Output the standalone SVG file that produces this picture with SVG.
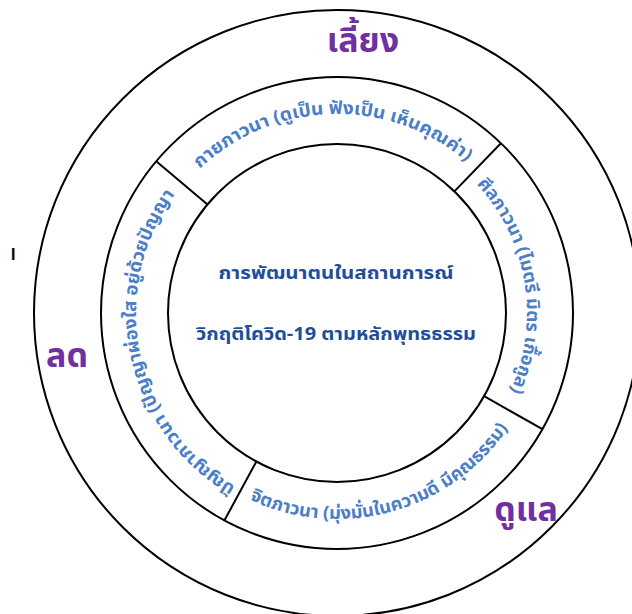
<svg xmlns="http://www.w3.org/2000/svg" width="632" height="614" viewBox="0 0 632 614">
  <style>
    .ring { fill: none; stroke: #000; stroke-width: 2; }
    .div { stroke: #000; stroke-width: 2; }
    .sec { font-family: Tahoma, "Noto Sans Thai", "Noto Sans", sans-serif; font-size: 18px; font-weight: bold; fill: #4A7EC6; }
    .core { font-family: Tahoma, "Noto Sans Thai", "Noto Sans", sans-serif; font-size: 18px; font-weight: bold; fill: #1F4E99; text-anchor: middle; }
    .big { font-family: Tahoma, "Noto Sans Thai", "Noto Sans", sans-serif; font-size: 34px; font-weight: bold; fill: #7030A0; text-anchor: middle; }
  </style>
  <defs>
    <path id="pTop" d="M181.3,189.1 A199,199 0 0 1 486.1,181.1"/>
    <path id="pRight" d="M461.0,169.1 A190,190 0 0 1 500.3,410.1"/>
    <path id="pBottom" d="M220.3,482.8 A206,206 0 0 0 524.5,398.4"/>
    <path id="pLeft" d="M257.5,497.6 A201,201 0 0 1 190.7,175.2"/>
  </defs>
  <rect width="632" height="614" fill="#fff"/>
  <g id="rings">
    <circle class="ring" cx="337" cy="313" r="303"/>
    <circle class="ring" cx="337" cy="313" r="236"/>
    <circle class="ring" cx="337" cy="313" r="169"/>
  </g>
  <g id="connectors">
    <line class="div" x1="207.5" y1="204.4" x2="156.2" y2="161.3"/>
    <line class="div" x1="454.4" y1="191.4" x2="500.9" y2="143.2"/>
    <line class="div" x1="484.1" y1="396.2" x2="542.4" y2="429.2"/>
    <line class="div" x1="256.4" y1="461.5" x2="224.4" y2="520.4"/>
  </g>
  <g id="center">
    <text class="core" x="336" y="279" textLength="235" lengthAdjust="spacingAndGlyphs">การพัฒนาตนในสถานการณ์</text>
    <text class="core" x="336" y="340" textLength="280" lengthAdjust="spacingAndGlyphs">วิกฤติโควิด-19 ตามหลักพุทธธรรม</text>
  </g>
  <g id="sector-kaya">
    <text class="sec"><textPath href="#pTop" startOffset="50%" text-anchor="middle" textLength="292" lengthAdjust="spacingAndGlyphs">กายภาวนา (ดูเป็น ฟังเป็น เห็นคุณค่า)</textPath></text>
  </g>
  <g id="sector-sila">
    <text class="sec"><textPath href="#pRight" startOffset="50%" text-anchor="middle" textLength="222" lengthAdjust="spacingAndGlyphs">ศีลภาวนา (ไมตรี มิตร เกื้อกูล)</textPath></text>
  </g>
  <g id="sector-citta">
    <text class="sec"><textPath href="#pBottom" startOffset="50%" text-anchor="middle" textLength="292" lengthAdjust="spacingAndGlyphs">จิตภาวนา (มุ่งมั่นในความดี มีคุณธรรม)</textPath></text>
  </g>
  <g id="sector-panna">
    <text class="sec"><textPath href="#pLeft" startOffset="50%" text-anchor="middle" textLength="336" lengthAdjust="spacingAndGlyphs">ปัญญาภาวนา (ปัญญาผ่องใส อยู่ด้วยปัญญา</textPath></text>
  </g>
  <g id="label-liang">
    <text class="big" x="363" y="52">เลี้ยง</text>
  </g>
  <g id="label-lot">
    <text class="big" x="67" y="367">ลด</text>
  </g>
  <g id="label-dulae">
    <text class="big" x="526" y="521">ดูแล</text>
  </g>
  <g id="mark">
    <text x="11" y="260" font-family="Liberation Sans, sans-serif" font-size="16" font-weight="bold" fill="#000">I</text>
  </g>
</svg>
